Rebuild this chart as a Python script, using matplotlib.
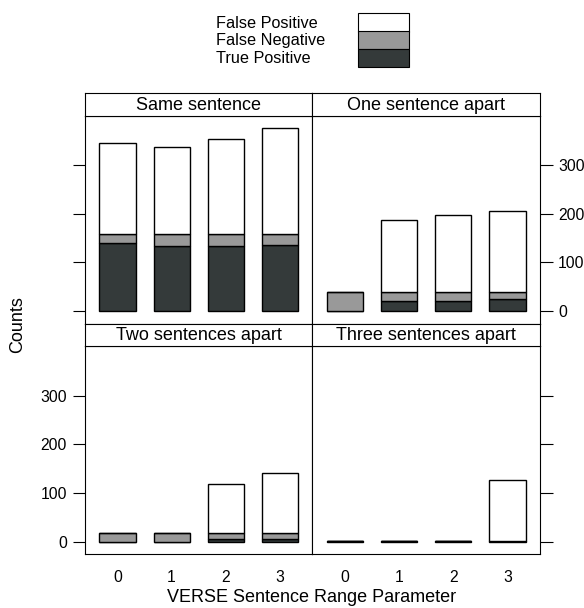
import numpy as np
import matplotlib
matplotlib.use("Agg")
from matplotlib import pyplot as plt
from matplotlib.patches import Rectangle

plt.rcParams['font.family'] = ['Liberation Sans', 'DejaVu Sans']

range_params = [0, 1, 2, 3]
panels = ["Same sentence", "One sentence apart", "Two sentences apart", "Three sentences apart"]

true_pos = {
    "Same sentence": [139, 134, 134, 136],
    "One sentence apart": [0, 20, 20, 24],
    "Two sentences apart": [0, 0, 6, 6],
    "Three sentences apart": [1, 1, 1, 1],
}
false_neg = {
    "Same sentence": [19, 24, 24, 22],
    "One sentence apart": [38, 18, 18, 14],
    "Two sentences apart": [17, 17, 11, 11],
    "Three sentences apart": [0, 0, 0, 0],
}
false_pos = {
    "Same sentence": [188, 179, 196, 218],
    "One sentence apart": [0, 149, 160, 168],
    "Two sentences apart": [0, 0, 102, 125],
    "Three sentences apart": [0, 0, 0, 126],
}

c_fp = "white"
c_fn = "#999999"
c_tp = "#343a3a"

W, H = 584, 608
fig = plt.figure(figsize=(W / 100, H / 100), dpi=100)


def fx(px):
    return px / W


def fy(py):
    return 1 - py / H


left_x = [85, 312.3]
right_x = [312.3, 540]
rows = [(93.3, 115.7, 323.5), (323.5, 346, 554.3)]

ymax = 376
ylim = (-0.07 * ymax, ymax * 1.07)

for i, name in enumerate(panels):
    r, c = divmod(i, 2)
    x0, x1 = left_x[c], right_x[c]
    s_top, s_bot, p_bot = rows[r]
    ax = fig.add_axes([fx(x0), fy(p_bot), fx(x1 - x0), fy(s_bot) - fy(p_bot)])
    tp = np.array(true_pos[name])
    fn = np.array(false_neg[name])
    fp = np.array(false_pos[name])
    kw = dict(width=2 / 3, edgecolor="black", linewidth=1.0)
    ax.bar(range_params, tp, color=c_tp, **kw)
    ax.bar(range_params, fn, bottom=tp, color=c_fn, **kw)
    ax.bar(range_params, fp, bottom=tp + fn, color=c_fp, **kw)
    ax.set_xlim(-0.6, 3.6)
    ax.set_ylim(*ylim)
    ax.set_yticks([0, 100, 200, 300])
    ax.set_xticks(range_params)
    ax.tick_params(axis="both", length=9, width=0.8, labelsize=11.3, pad=4)
    ax.tick_params(axis="x", length=0, pad=11)
    if r == 0:
        ax.set_xticklabels([])
    if c == 0:
        ax.yaxis.tick_left()
        if r == 0:
            ax.set_yticklabels([])
    else:
        ax.yaxis.tick_right()
        if r == 1:
            ax.set_yticklabels([])
    for sp in ax.spines.values():
        sp.set_linewidth(0.8)

    # strip
    sax = fig.add_axes([fx(x0), fy(s_bot), fx(x1 - x0), fy(s_top) - fy(s_bot)])
    sax.set_xticks([])
    sax.set_yticks([])
    for sp in sax.spines.values():
        sp.set_linewidth(0.8)
    sax.text(0.5, 0.45, name, ha="center", va="center", fontsize=13,
             transform=sax.transAxes)

# legend
legend_labels = ["False Positive", "False Negative", "True Positive"]
legend_colors = [c_fp, c_fn, c_tp]
box_top = [13.3, 31.5, 48.5]
box_bot = [31.5, 48.5, 67]
for lab, col, t, b in zip(legend_labels, legend_colors, box_top, box_bot):
    fig.patches.append(Rectangle((fx(357.7), fy(b)), fx(409.3 - 357.7), fy(t) - fy(b),
                                 facecolor=col, edgecolor="black", linewidth=0.8,
                                 transform=fig.transFigure))
    fig.text(fx(216), fy((t + b) / 2 + 1), lab, ha="left", va="center", fontsize=11.7)

fig.text(fx(312), fy(597), "VERSE Sentence Range Parameter", ha="center", va="center", fontsize=13)
fig.text(fx(18), fy(325), "Counts", ha="center", va="center", rotation=90, fontsize=13)

fig.savefig("out.png", dpi=100)
